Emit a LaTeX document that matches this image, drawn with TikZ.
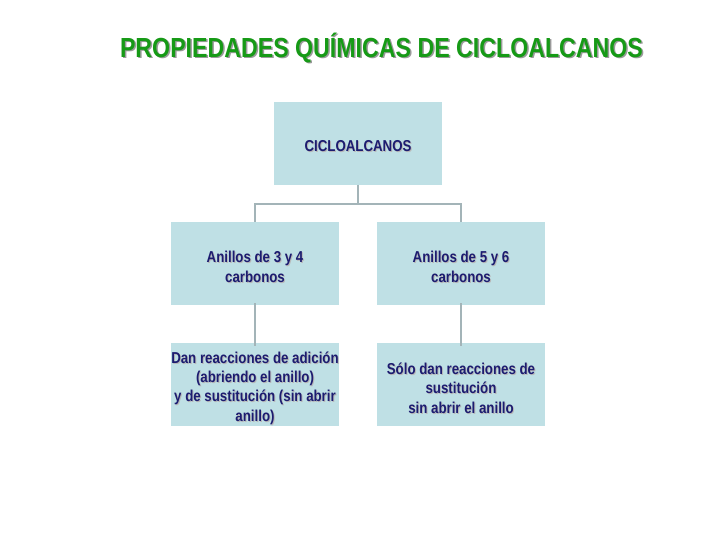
\documentclass[tikz,border=0pt]{standalone}
\usepackage{fontspec}
\setmainfont[FakeStretch=0.84]{Liberation Sans}
\definecolor{boxfill}{HTML}{BFE0E5}
\definecolor{linec}{HTML}{A3B4B8}
\definecolor{navy}{HTML}{1C1C70}
\definecolor{titlegreen}{HTML}{169A16}
\definecolor{shadowc}{HTML}{9A9A9A}
\tikzset{
  box/.style={fill=boxfill, draw=none, minimum width=168pt, minimum height=83pt, inner sep=0pt},
  btext/.style={text=navy, font=\bfseries\fontsize{15.8}{19.4}\selectfont, align=center},
  bshadow/.style={text=shadowc!70, font=\bfseries\fontsize{15.8}{19.4}\selectfont, align=center},
  conn/.style={draw=linec, line width=2pt},
}
\begin{document}
\begin{tikzpicture}[x=1pt,y=-1pt]
\useasboundingbox (0,0) rectangle (728,546);
\fill[white] (0,0) rectangle (728,546);
% title
\node[text=shadowc, font=\bfseries\fontsize{27.6}{30}\selectfont, anchor=center] at (383,49) {PROPIEDADES QUÍMICAS DE CICLOALCANOS};
\node[text=titlegreen, font=\bfseries\fontsize{27.6}{30}\selectfont, anchor=center] (title) at (381.5,47.5) {PROPIEDADES QUÍMICAS DE CICLOALCANOS};
% boxes
\node[box] (top) at (358,143) {};
\node[box] (l1) at (255,263.5) {};
\node[box] (r1) at (461,263.5) {};
\node[box] (l2) at (255,384.5) {};
\node[box] (r2) at (461,384.5) {};
% texts
\foreach \n/\t in {top/{CICLOALCANOS}, l1/{Anillos de 3 y 4\\carbonos}, r1/{Anillos de 5 y 6\\carbonos}, l2/{Dan reacciones de adición\\(abriendo el anillo)\\y de sustitución (sin abrir\\anillo)}, r2/{Sólo dan reacciones de\\sustitución\\sin abrir el anillo}} {
  \node[bshadow] at ([shift={(1,4.5)}]\n.center) {\t};
  \node[btext] at ([shift={(0,3.5)}]\n.center) {\t};
}
% connectors
\coordinate (j) at (358,204);
\draw[conn] (top.south) -- (j);
\draw[conn] (l1.north) |- (j) -| (r1.north);
\draw[conn] ([yshift=2]l1.south) -- ([yshift=-3]l2.north);
\draw[conn] ([yshift=2]r1.south) -- ([yshift=-3]r2.north);
\end{tikzpicture}
\end{document}
